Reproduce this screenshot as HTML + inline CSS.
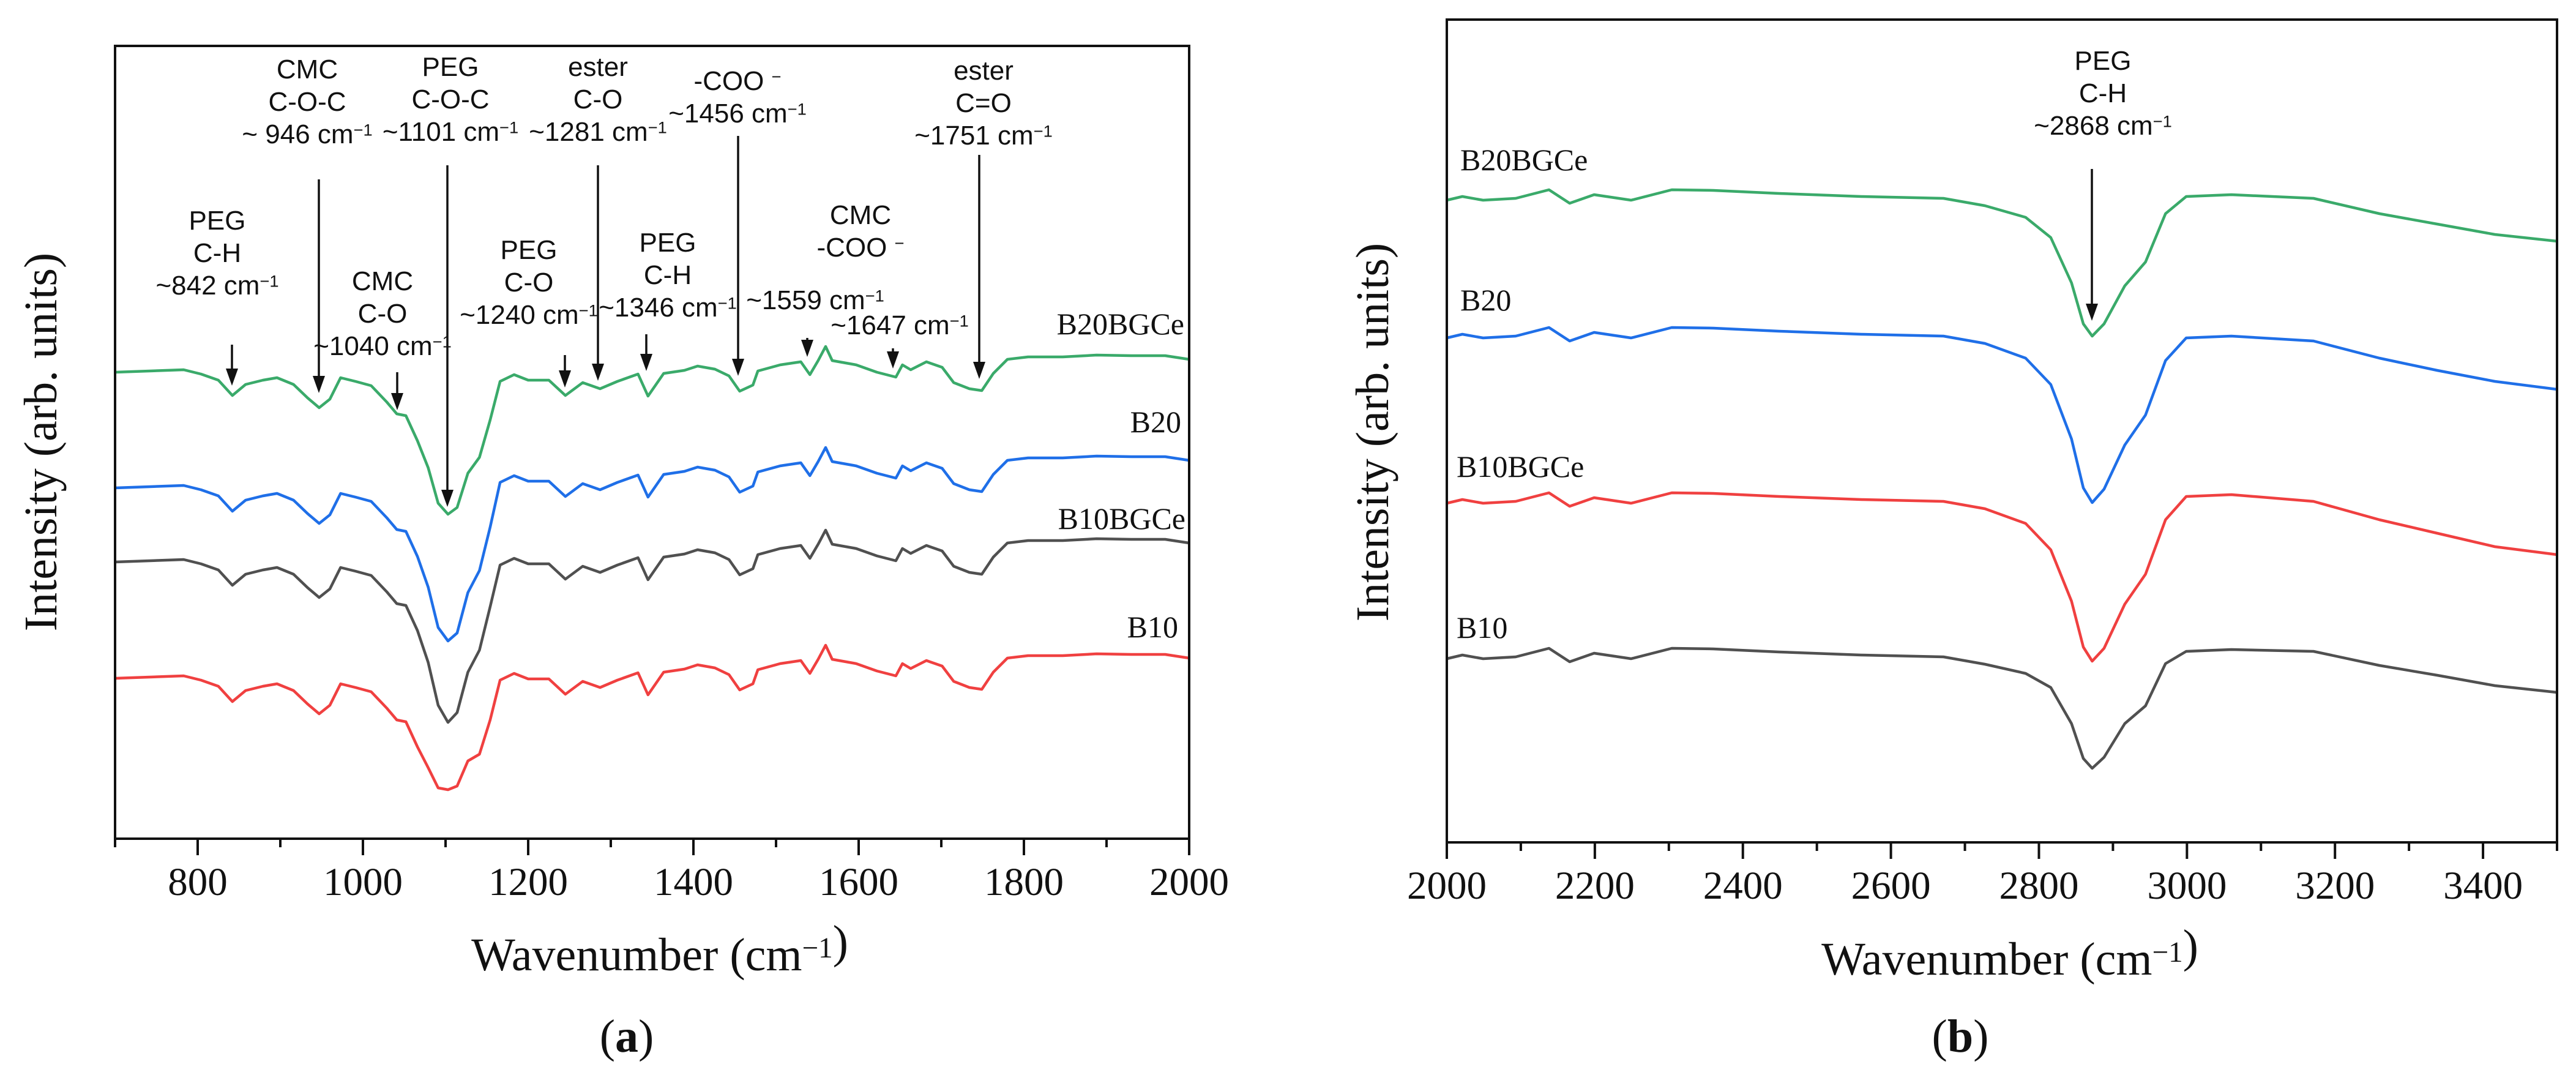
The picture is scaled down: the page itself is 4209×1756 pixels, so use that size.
<!DOCTYPE html>
<html><head><meta charset="utf-8">
<style>
html,body{margin:0;padding:0;background:#fff;}
svg{display:block;}
.tick{font-family:"Liberation Serif",serif;font-size:65px;fill:#111;}
.ttl{font-family:"Liberation Serif",serif;font-size:76px;fill:#111;}
.ser{font-family:"Liberation Serif",serif;font-size:50px;fill:#111;}
.ann{font-family:"Liberation Sans",sans-serif;font-size:44px;fill:#111;}
</style></head>
<body>
<svg id="fig" width="4209" height="1756" viewBox="0 0 4209 1756" xmlns="http://www.w3.org/2000/svg"></svg>
<script>
// ---------- Panel (a) data ----------
const wnA = [700,742,783,804,825,842,858,879,896,916,933,947,960,973,991,1010,1029,1041,1052,1066,1079,1091,1103,1114,1127,1141,1154,1166,1183,1200,1225,1245,1266,1287,1308,1333,1345,1364,1389,1405,1426,1443,1456,1472,1478,1505,1530,1541,1551,1560,1568,1597,1622,1645,1653,1663,1682,1701,1715,1734,1749,1763,1780,1805,1847,1888,1930,1971,2000];
const aB20BGCe = [76.2,76.4,76.6,75.9,74.9,72.4,74.2,74.9,75.3,74.2,72.0,70.4,71.8,75.3,74.7,74.0,71.3,69.4,69.1,65.0,60.6,54.8,53.0,54.1,59.7,62.3,68.4,74.7,75.8,74.9,74.9,72.4,74.5,73.5,74.7,75.9,72.3,76.0,76.5,77.2,76.7,75.6,73.1,74.1,76.4,77.4,77.9,75.8,78.1,80.4,78.1,77.4,76.2,75.4,77.4,76.6,77.9,77.0,74.5,73.5,73.2,76.0,78.3,78.7,78.7,79.0,78.9,78.9,78.3];
const aB20 = [57.3,57.5,57.7,57.0,56.0,53.5,55.3,56.0,56.4,55.3,53.1,51.5,52.9,56.4,55.8,55.1,52.4,50.5,50.2,46.1,41.1,34.5,32.3,33.6,40.2,43.8,50.9,58.2,59.3,58.4,58.4,55.9,58.0,57.0,58.2,59.4,55.8,59.5,60.0,60.7,60.2,59.1,56.6,57.6,59.9,60.9,61.4,59.3,61.6,63.9,61.6,60.9,59.7,58.9,60.9,60.1,61.4,60.5,58.0,57.0,56.7,59.5,61.8,62.2,62.2,62.5,62.4,62.4,61.8];
const aB10BGCe = [45.2,45.4,45.6,44.9,43.9,41.4,43.2,43.9,44.3,43.2,41.0,39.4,40.8,44.3,43.7,43.0,40.3,38.4,38.1,34.0,28.8,21.8,19.0,20.6,27.2,30.8,37.9,44.7,45.8,44.9,44.9,42.4,44.5,43.5,44.7,45.9,42.3,46.0,46.5,47.2,46.7,45.6,43.1,44.1,46.4,47.4,47.9,45.8,48.1,50.4,48.1,47.4,46.2,45.4,47.4,46.6,47.9,47.0,44.5,43.5,43.2,46.0,48.3,48.7,48.7,49.0,48.9,48.9,48.3];
const aB10 = [26.2,26.4,26.6,25.9,24.9,22.4,24.2,24.9,25.3,24.2,22.0,20.4,21.8,25.3,24.7,24.0,21.3,19.4,19.1,15.0,11.6,8.3,8.0,8.6,12.7,13.8,19.4,25.9,27.0,26.1,26.1,23.6,25.7,24.7,25.9,27.1,23.5,27.2,27.7,28.4,27.9,26.8,24.3,25.3,27.6,28.6,29.1,27.0,29.3,31.6,29.3,28.6,27.4,26.6,28.6,27.8,29.1,28.2,25.7,24.7,24.4,27.2,29.5,29.9,29.9,30.2,30.1,30.1,29.5];
const ticksA = [800,1000,1200,1400,1600,1800,2000];
const minorA = [700,900,1100,1300,1500,1700,1900];
// ---------- Panel (b) data ----------
const wnB = [2000,2021,2049,2093,2138,2166,2199,2249,2304,2360,2449,2560,2671,2727,2782,2816,2844,2860,2872,2888,2916,2944,2971,2999,3060,3171,3260,3338,3416,3500];
const bB20BGCe = [104.9,105.5,104.9,105.2,106.6,104.4,105.8,104.9,106.6,106.5,106.0,105.5,105.2,104.0,102.1,98.8,91.4,84.7,82.7,84.7,90.9,94.8,102.7,105.5,105.8,105.2,102.7,101.0,99.3,98.2];
const bB20 = [82.4,83.0,82.4,82.7,84.1,81.9,83.3,82.4,84.1,84.0,83.5,83.0,82.7,81.5,79.1,74.8,65.9,57.9,55.5,57.7,64.9,69.8,78.7,82.4,82.7,81.9,79.1,77.1,75.3,74.0];
const bB10BGCe = [55.4,56.0,55.4,55.7,57.1,54.9,56.3,55.4,57.1,57.0,56.5,56.0,55.7,54.5,52.1,47.8,39.4,31.9,29.6,31.7,38.9,43.8,52.7,56.5,56.8,55.7,52.7,50.5,48.3,47.0];
const bB10 = [30.0,30.6,30.0,30.3,31.7,29.5,30.9,30.0,31.7,31.6,31.1,30.6,30.3,29.1,27.6,25.3,19.4,13.7,12.1,13.9,19.4,22.3,29.2,31.2,31.5,31.2,28.9,27.3,25.6,24.5];
const ticksB = [2000,2200,2400,2600,2800,3000,3200,3400];
const minorB = [2100,2300,2500,2700,2900,3100,3300,3500];

const NS = "http://www.w3.org/2000/svg";
const svg = document.getElementById('fig');
function mk(tag, attrs, parent){
  const e = document.createElementNS(NS, tag);
  for (const k in attrs) e.setAttribute(k, attrs[k]);
  (parent||svg).appendChild(e);
  return e;
}
const COL = {g:'#3aaa6a', b:'#1f6fe8', k:'#505050', r:'#f04040'};

const A = {l:188, r:1943, t:75, b:1370, x0:700, x1:2000, y0:0, y1:129.5};
const B = {l:2364, r:4178, t:32, b:1376, x0:2000, x1:3500, y0:0, y1:134.4};
function xs(P, v){ return P.l + (v-P.x0)/(P.x1-P.x0)*(P.r-P.l); }
function ys(P, v){ return P.b - (v-P.y0)/(P.y1-P.y0)*(P.b-P.t); }

function drawSeries(P, xsArr, vals, color, name){
  let d = '';
  for (let i=0;i<xsArr.length;i++){
    d += (i?'L':'M') + xs(P,xsArr[i]).toFixed(1) + ' ' + ys(P,vals[i]).toFixed(1);
  }
  const p = mk('path', {d:d, fill:'none', stroke:color, 'stroke-width':4.5, 'stroke-linejoin':'round'});
  
  
}

function drawAxes(P, ticks, minor, key){
  const g = mk('g', {});
  
  
  mk('rect', {x:P.l, y:P.t, width:P.r-P.l, height:P.b-P.t, fill:'none', stroke:'#111', 'stroke-width':4}, g);
  ticks.forEach(t=>{
    const x = xs(P,t);
    mk('line', {x1:x, x2:x, y1:P.b, y2:P.b+27, stroke:'#111', 'stroke-width':4}, g);
    const tx = mk('text', {x:x, y:P.b+92, 'text-anchor':'middle', class:'tick'}, g);
    tx.textContent = t;
    
    
  });
  minor.forEach(t=>{
    const x = xs(P,t);
    mk('line', {x1:x, x2:x, y1:P.b, y2:P.b+14, stroke:'#111', 'stroke-width':4}, g);
  });
}

function sup(parent, main, s){
  parent.appendChild(document.createTextNode(main));
  const t = document.createElementNS(NS,'tspan');
  t.setAttribute('dy','-0.45em'); t.setAttribute('font-size','0.62em');
  t.textContent = s; parent.appendChild(t);
}
function title(x, y, rot, name){
  const t = mk('text', {x:x, y:y, 'text-anchor':'middle', class:'ttl'});
  if (rot) t.setAttribute('transform', 'rotate(-90 '+x+' '+y+')');
  
  
  return t;
}
function ann(cx, lines, baseY, name){
  const g = mk('g', {});
  
  
  lines.forEach((ln,i)=>{
    const t = mk('text', {x:cx, y:baseY + i*53, 'text-anchor':'middle', class:'ann'}, g);
    if (Array.isArray(ln)) sup(t, ln[0], ln[1]); else t.textContent = ln;
  });
}
function arrow(x, y1, y2, name){
  const g = mk('g', {});
  
  
  mk('line', {x1:x, x2:x, y1:y1, y2:y2-24, stroke:'#111', 'stroke-width':3.5}, g);
  mk('polygon', {points:(x-10)+','+(y2-28)+' '+(x+10)+','+(y2-28)+' '+x+','+y2, fill:'#111'}, g);
}
function lbl(x, y, anchor, text, name){
  const t = mk('text', {x:x, y:y, 'text-anchor':anchor, class:'ser'});
  t.textContent = text;
  
  
}

// ---------- Panel a ----------
drawSeries(A, wnA, aB20BGCe, COL.g, 'a-b20bgce-line');
drawSeries(A, wnA, aB20, COL.b, 'a-b20-line');
drawSeries(A, wnA, aB10BGCe, COL.k, 'a-b10bgce-line');
drawSeries(A, wnA, aB10, COL.r, 'a-b10-line');
drawAxes(A, ticksA, minorA, 'panel-a');
sup(title(1078, 1585, false, 'a-x-axis-title'), 'Wavenumber (cm', '−1');
svg.lastChild.appendChild(document.createTextNode(')'));
title(92, 722, true, 'a-y-axis-title').textContent = 'Intensity (arb. units)';
title(1024, 1718, false, 'panel-a-label').innerHTML = '(<tspan font-weight="bold">a</tspan>)';
lbl(1935, 546, 'end', 'B20BGCe', 'label-b20bgce-a');
lbl(1930, 706, 'end', 'B20', 'label-b20-a');
lbl(1937, 864, 'end', 'B10BGCe', 'label-b10bgce-a');
lbl(1925, 1041, 'end', 'B10', 'label-b10-a');

ann(355, ['PEG','C-H',['~842 cm','−1']], 375, 'ann-peg-ch-842');
ann(502, ['CMC','C-O-C',['~ 946 cm','−1']], 128, 'ann-cmc-coc-946');
ann(736, ['PEG','C-O-C',['~1101 cm','−1']], 124, 'ann-peg-coc-1101');
ann(625, ['CMC','C-O',['~1040 cm','−1']], 474, 'ann-cmc-co-1040');
ann(864, ['PEG','C-O',['~1240 cm','−1']], 423, 'ann-peg-co-1240');
ann(977, ['ester','C-O',['~1281 cm','−1']], 124, 'ann-ester-co-1281');
ann(1091, ['PEG','C-H',['~1346 cm','−1']], 411, 'ann-peg-ch-1346');
ann(1205, [['-COO ','−'],['~1456 cm','−1']], 147, 'ann-coo-1456');
ann(1332, [['~1559 cm','−1']], 505, 'ann-1559');
ann(1406, ['CMC',['-COO ','−']], 366, 'ann-cmc-coo');
ann(1470, [['~1647 cm','−1']], 546, 'ann-1647');
ann(1607, ['ester','C=O',['~1751 cm','−1']], 130, 'ann-ester-co-1751');

arrow(379, 563, 630, 'arrow-842');
arrow(521, 293, 642, 'arrow-946');
arrow(731, 270, 828, 'arrow-1101');
arrow(649, 608, 670, 'arrow-1040');
arrow(923, 580, 633, 'arrow-1240');
arrow(977, 270, 622, 'arrow-1281');
arrow(1056, 546, 606, 'arrow-1346');
arrow(1206, 222, 614, 'arrow-1456');
arrow(1319, 552, 583, 'arrow-1559');
arrow(1459, 569, 602, 'arrow-1647');
arrow(1600, 253, 619, 'arrow-1751');

// ---------- Panel b ----------
drawSeries(B, wnB, bB20BGCe, COL.g, 'b-b20bgce-line');
drawSeries(B, wnB, bB20, COL.b, 'b-b20-line');
drawSeries(B, wnB, bB10BGCe, COL.r, 'b-b10bgce-line');
drawSeries(B, wnB, bB10, COL.k, 'b-b10-line');
drawAxes(B, ticksB, minorB, 'panel-b');
sup(title(3284, 1592, false, 'b-x-axis-title'), 'Wavenumber (cm', '−1');
svg.lastChild.appendChild(document.createTextNode(')'));
title(2268, 706, true, 'b-y-axis-title').textContent = 'Intensity (arb. units)';
title(3203, 1718, false, 'panel-b-label').innerHTML = '(<tspan font-weight="bold">b</tspan>)';
lbl(2386, 278, 'start', 'B20BGCe', 'label-b20bgce-b');
lbl(2386, 507, 'start', 'B20', 'label-b20-b');
lbl(2380, 779, 'start', 'B10BGCe', 'label-b10bgce-b');
lbl(2380, 1042, 'start', 'B10', 'label-b10-b');
ann(3436, ['PEG','C-H',['~2868 cm','−1']], 114, 'ann-peg-ch-2868');
arrow(3418, 276, 524, 'arrow-2868');
</script>
</body></html>
